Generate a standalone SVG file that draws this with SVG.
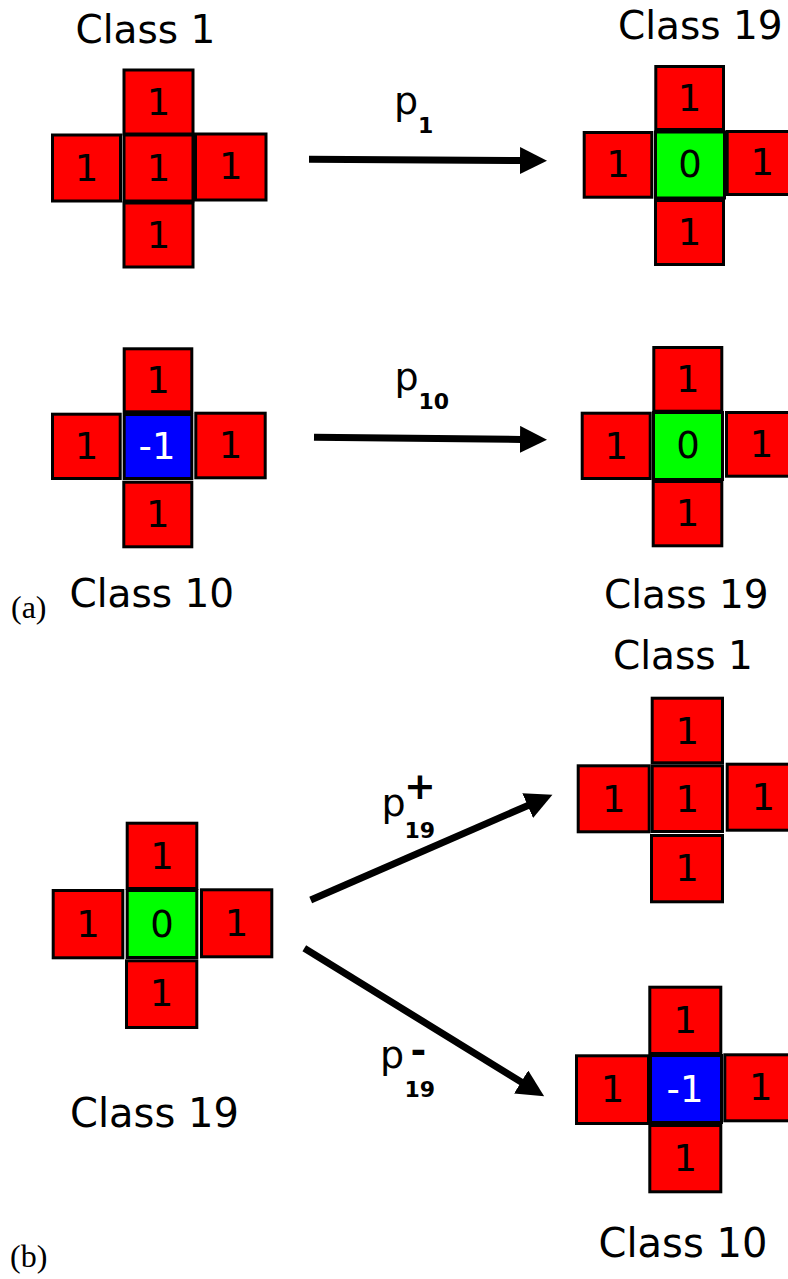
<svg xmlns="http://www.w3.org/2000/svg" width="788" height="1279" viewBox="0 0 788 1279">
  <style>
    .c { stroke: #000; stroke-width: 3; }
    .r { fill: #ff0000; }
    .g { fill: #00ff00; }
    .b { fill: #0000ff; }
    .d { font-family: "DejaVu Sans", sans-serif; font-size: 37px; text-anchor: middle; fill: #000; }
    .w { fill: #fff; }
    .cls { font-family: "DejaVu Sans", sans-serif; font-size: 39px; fill: #000; }
    .p { font-family: "DejaVu Sans", sans-serif; font-size: 38px; fill: #000; }
    .sub { font-family: "DejaVu Sans", sans-serif; font-size: 22px; font-weight: bold; fill: #000; }
    .sup { font-family: "DejaVu Sans", sans-serif; font-size: 38px; font-weight: bold; fill: #000; text-anchor: middle; }
    .tag { font-family: "Liberation Serif", serif; font-size: 32px; fill: #000; }
    .arrow { stroke: #000; stroke-width: 7; fill: none; marker-end: url(#head); }
  </style>
  <defs>
    <marker id="head" markerUnits="userSpaceOnUse" markerWidth="28" markerHeight="28" refX="1" refY="13.5" orient="auto">
      <path d="M0,0 L27,13.5 L0,27 Z" fill="#000"/>
    </marker>
  </defs>
  <rect width="788" height="1279" fill="#fff"/>

  <!-- (a) Class 1 -->
  <g id="a-class1">
    <text class="cls" x="75.5" y="43.3">Class 1</text>
    <rect class="c r" x="124" y="70" width="69" height="64"/>
    <rect class="c r" x="52.5" y="135" width="68" height="66"/>
    <rect class="c r" x="195.5" y="134" width="70.5" height="66"/>
    <rect class="c r" x="124" y="203" width="69" height="64"/>
    <rect class="c r" x="124" y="135" width="69" height="66"/>
    <text class="d" x="158.5" y="115">1</text>
    <text class="d" x="86.5" y="181">1</text>
    <text class="d" x="158.5" y="181">1</text>
    <text class="d" x="230.8" y="179">1</text>
    <text class="d" x="158.5" y="248">1</text>
  </g>

  <!-- (a) Class 19, upper -->
  <g id="a-class19-top">
    <text class="cls" x="618" y="39.3">Class 19</text>
    <rect class="c r" x="655.8" y="66.5" width="67.7" height="63"/>
    <rect class="c r" x="584.2" y="132.5" width="67.6" height="64.7"/>
    <rect class="c r" x="727.2" y="131.5" width="70" height="63"/>
    <rect class="c r" x="655.5" y="200.5" width="68" height="64"/>
    <rect class="c g" x="655.5" y="132" width="69" height="66"/>
    <text class="d" x="689.6" y="111">1</text>
    <text class="d" x="618" y="177">1</text>
    <text class="d" x="690" y="177">0</text>
    <text class="d" x="762.2" y="175">1</text>
    <text class="d" x="689.5" y="245">1</text>
  </g>

  <!-- (a) Class 10 -->
  <g id="a-class10">
    <rect class="c r" x="124.2" y="348.8" width="67.6" height="63"/>
    <rect class="c r" x="52.5" y="414.2" width="67.7" height="64.3"/>
    <rect class="c r" x="195.8" y="413.2" width="69.4" height="64.6"/>
    <rect class="c r" x="123.8" y="482.2" width="68" height="64.6"/>
    <rect class="c b" x="124.2" y="414.5" width="67.6" height="64"/>
    <text class="d" x="158" y="393">1</text>
    <text class="d" x="86.4" y="459">1</text>
    <text class="d w" x="157" y="459">-1</text>
    <text class="d" x="230.5" y="458">1</text>
    <text class="d" x="157.8" y="527">1</text>
    <text class="cls" x="69.5" y="606.7">Class 10</text>
  </g>

  <!-- (a) Class 19, lower -->
  <g id="a-class19-bottom">
    <rect class="c r" x="653.8" y="347.5" width="68" height="63.7"/>
    <rect class="c r" x="582.2" y="413.2" width="68" height="65.3"/>
    <rect class="c r" x="726.5" y="412.5" width="70" height="63.7"/>
    <rect class="c r" x="653.2" y="481.5" width="68.6" height="64.3"/>
    <rect class="c g" x="653.5" y="412.5" width="69" height="67"/>
    <text class="d" x="687.8" y="392">1</text>
    <text class="d" x="616.2" y="458.5">1</text>
    <text class="d" x="688" y="458">0</text>
    <text class="d" x="761.5" y="457">1</text>
    <text class="d" x="687.5" y="526">1</text>
    <text class="cls" x="604" y="608.3">Class 19</text>
  </g>

  <!-- (b) Class 19 -->
  <g id="b-class19">
    <rect class="c r" x="127.2" y="823.2" width="69.6" height="65.3"/>
    <rect class="c r" x="53.2" y="890.5" width="69.6" height="67.3"/>
    <rect class="c r" x="201.5" y="889.8" width="70.3" height="67"/>
    <rect class="c r" x="126.5" y="960.8" width="70.3" height="66.7"/>
    <rect class="c g" x="127.2" y="890.5" width="69.6" height="67"/>
    <text class="d" x="162" y="869">1</text>
    <text class="d" x="88" y="937">1</text>
    <text class="d" x="162" y="937">0</text>
    <text class="d" x="236.6" y="936">1</text>
    <text class="d" x="161.6" y="1006">1</text>
    <text class="cls" x="70" y="1127" style="font-size:40px">Class 19</text>
  </g>

  <!-- (b) Class 1 -->
  <g id="b-class1">
    <text class="cls" x="613" y="669.3">Class 1</text>
    <rect class="c r" x="652.2" y="698.2" width="70.3" height="64.6"/>
    <rect class="c r" x="578.2" y="765.8" width="71" height="66"/>
    <rect class="c r" x="727.2" y="764.2" width="72" height="66"/>
    <rect class="c r" x="651.5" y="835.5" width="71" height="66.3"/>
    <rect class="c r" x="652.2" y="765.8" width="70.3" height="65.7"/>
    <text class="d" x="687.3" y="743.5">1</text>
    <text class="d" x="613.7" y="812">1</text>
    <text class="d" x="687.3" y="812">1</text>
    <text class="d" x="763.2" y="810">1</text>
    <text class="d" x="687" y="881">1</text>
  </g>

  <!-- (b) Class 10 -->
  <g id="b-class10">
    <rect class="c r" x="649.8" y="987.2" width="71" height="66.3"/>
    <rect class="c r" x="576.5" y="1055.8" width="72" height="67.7"/>
    <rect class="c r" x="724.8" y="1054.8" width="72" height="66"/>
    <rect class="c r" x="649.8" y="1125.5" width="71" height="66.3"/>
    <rect class="c b" x="650.5" y="1055.5" width="71" height="67"/>
    <text class="d" x="685.3" y="1033">1</text>
    <text class="d" x="612.5" y="1102">1</text>
    <text class="d w" x="685" y="1102">-1</text>
    <text class="d" x="760.8" y="1100">1</text>
    <text class="d" x="685.3" y="1171">1</text>
    <text class="cls" x="598.5" y="1257.3" style="font-size:40px">Class 10</text>
  </g>

  <!-- transitions -->
  <g id="connectors">
    <line class="arrow" x1="309" y1="159.3" x2="521" y2="160.6"/>
    <line class="arrow" x1="314" y1="437.3" x2="521" y2="439.4"/>
    <line class="arrow" x1="310.7" y1="900" x2="528.6" y2="805.2"/>
    <line class="arrow" x1="304.3" y1="948.3" x2="522" y2="1082.5"/>
  </g>

  <!-- transition probabilities -->
  <g id="labels">
    <text class="p" x="394" y="114">p</text>
    <text class="sub" x="418" y="133.3">1</text>

    <text class="p" x="394.5" y="390">p</text>
    <text class="sub" x="418.5" y="409">10</text>

    <text class="p" x="381.5" y="816">p</text>
    <text class="sup" x="420" y="799">+</text>
    <text class="sub" x="404.5" y="838">19</text>

    <text class="p" x="380" y="1068">p</text>
    <text class="sup" x="418.3" y="1062.5">-</text>
    <text class="sub" x="404.5" y="1097">19</text>
  </g>

  <text class="tag" x="11" y="618">(a)</text>
  <text class="tag" x="10" y="1267">(b)</text>
</svg>
